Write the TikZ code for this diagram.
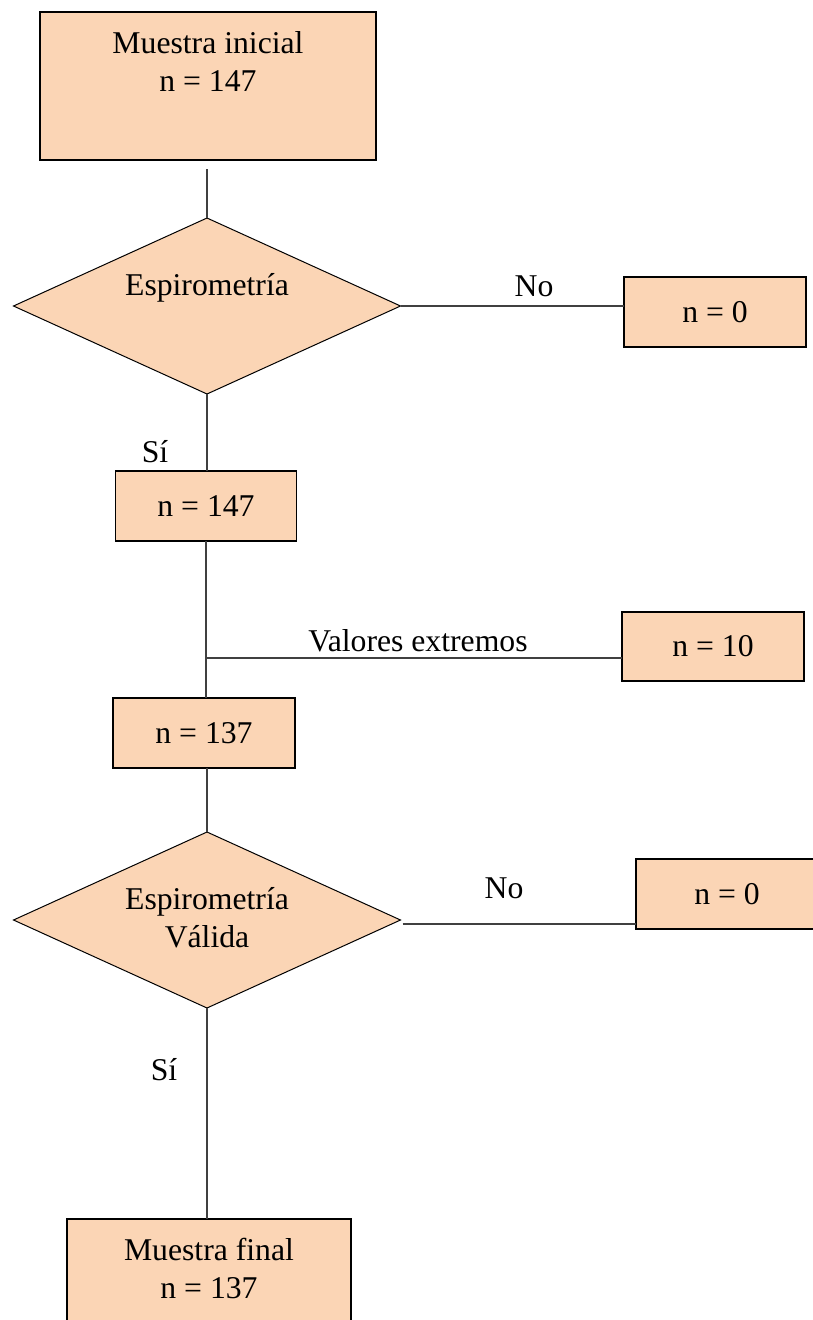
\documentclass[tikz,border=0pt]{standalone}
\usepackage{fontspec}
\setmainfont{Liberation Serif}
\usetikzlibrary{shapes.geometric}
\definecolor{peach}{HTML}{FBD5B5}
\definecolor{wire}{HTML}{404040}
\begin{document}
\begin{tikzpicture}[x=1pt, y=-1pt,
   font=\fontsize{31.7}{38}\selectfont,
   box/.style={rectangle, draw=black, line width=1.5pt, fill=peach, inner sep=0, outer sep=0},
   decision/.style={diamond, draw=black, line width=1pt, fill=peach, inner sep=0, outer sep=0,
      minimum width=387pt, minimum height=176pt},
   txt/.style={align=center, inner sep=0},
   wire/.style={draw=wire, line width=1.2pt}]
   \useasboundingbox (0,0) rectangle (813,1320);

   % Start
   \node[box, minimum width=336pt, minimum height=148pt] (ini) at (208,86) {};
   \node[txt] (iniT) at (208,61) {Muestra inicial\\n = 147};

   % First check
   \node[decision] (d1) at (207,306) {};
   \node[txt] (d1T) at (207,288) {Espirometría};
   \node[box, minimum width=182pt, minimum height=70pt] (z1) at (715,312) {n = 0};
   \node[box, minimum width=181pt, minimum height=70pt] (n147) at (206,506) {n = 147};
   \node[txt] (si1) at (155,452) {Sí};
   \node[txt] (no1) at (534,286) {No};

   % Outliers
   \node[box, minimum width=182pt, minimum height=69pt] (n10) at (713,646.5) {n = 10};
   \node[txt] (valT) at (418,641) {Valores extremos};
   \node[box, minimum width=182pt, minimum height=70pt] (n137) at (204,733) {n = 137};
   \coordinate (br) at (206,658);

   % Second check
   \node[decision] (d2) at (207,920) {};
   \node[txt] (d2T) at (207,918) {Espirometría\\Válida};
   \node[box, minimum width=182pt, minimum height=70pt] (z2) at (727,894) {n = 0};
   \node[txt] (no2) at (504,888) {No};
   \node[txt] (si2) at (164,1070) {Sí};

   % End
   \node[box, minimum width=284pt, minimum height=140pt] (fin) at (209,1289) {};
   \node[txt] (finT) at (209,1268) {Muestra final\\n = 137};

   % Connectors
   \draw[wire, shorten <=9pt] (d1.north |- ini.south) -- (d1.north);
   \draw[wire] (d1.east) -- (d1.east -| z1.west);
   \draw[wire] (d1.south) -- (d1.south |- n147.north);
   \draw[wire] (n147.south) -- (n147.south |- n137.north);
   \draw[wire] (br) -- (br -| n10.west);
   \draw[wire] (n137.south -| d2.north) -- (d2.north);
   \draw[wire] ([xshift=2pt, yshift=-4pt]d2.east) -- ([yshift=-4pt]d2.east -| z2.west);
   \draw[wire] (d2.south) -- (d2.south |- fin.north);
\end{tikzpicture}
\end{document}
